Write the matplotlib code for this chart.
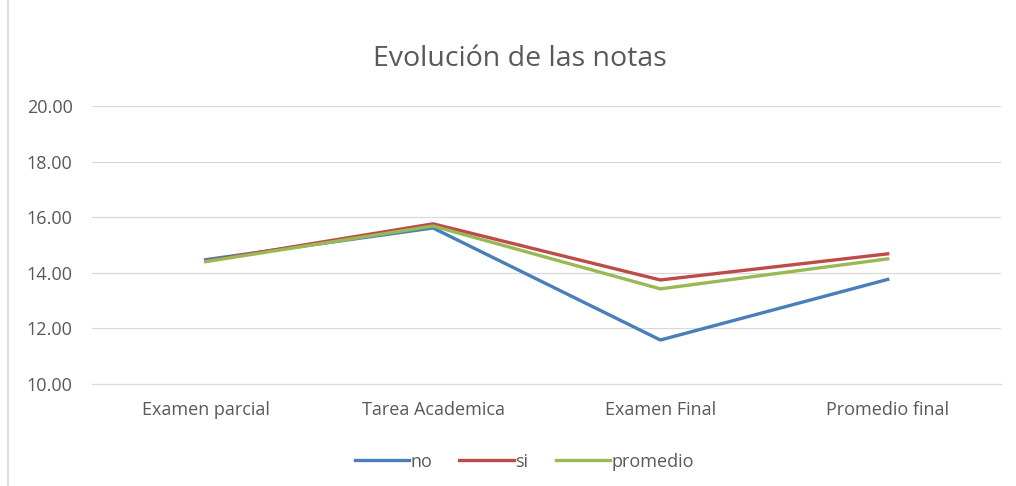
import matplotlib

matplotlib.use("Agg")
import matplotlib.pyplot as plt
from matplotlib.patches import Rectangle

categories = ["Examen parcial", "Tarea Academica", "Examen Final", "Promedio final"]
no_vals = [14.47, 15.61, 11.58, 13.76]
si_vals = [14.42, 15.76, 13.74, 14.68]
promedio_vals = [14.40, 15.68, 13.42, 14.50]
yticks = [10, 12, 14, 16, 18, 20]

plt.rcParams["font.family"] = ["Open Sans", "DejaVu Sans"]

fig = plt.figure(figsize=(10.16, 4.86), dpi=100)
fig.patches.append(Rectangle((0.008, -0.01), 1.1, 1.1, transform=fig.transFigure,
                             fill=False, edgecolor="#d9d9d9", lw=1.2))
ax = fig.add_axes([0.0906, 0.21, 0.895, 0.572])

x = range(len(categories))
ax.plot(x, no_vals, color="#4a7ebb", lw=2.4, label="no", solid_joinstyle="round")
ax.plot(x, si_vals, color="#be4b48", lw=2.4, label="si", solid_joinstyle="round")
ax.plot(x, promedio_vals, color="#98b954", lw=2.4, label="promedio", solid_joinstyle="round")

ax.set_xlim(-0.5, len(categories) - 0.5)
ax.set_ylim(10, 20)
ax.set_yticks(yticks)
ax.set_yticklabels([f"{v:.2f}" for v in yticks])
ax.set_xticks(list(x))
ax.set_xticklabels(categories)
ax.tick_params(axis="both", length=0, labelsize=13, colors="#595959")
ax.tick_params(axis="y", pad=14)
ax.tick_params(axis="x", pad=12)
ax.grid(axis="y", color="#d9d9d9", lw=0.9)
ax.set_axisbelow(True)
for side in ("top", "right", "left"):
    ax.spines[side].set_visible(False)
ax.spines["bottom"].set_color("#d9d9d9")

fig.text(0.512, 0.878, "Evolución de las notas", ha="center", va="center",
         fontsize=20.5, color="#595959")
fig.legend(loc="center", bbox_to_anchor=(0.516, 0.05), ncol=3, frameon=False,
           fontsize=13, labelcolor="#595959", handlelength=3.0,
           handletextpad=0.1, columnspacing=1.5)

fig.savefig("out.png", dpi=100)
